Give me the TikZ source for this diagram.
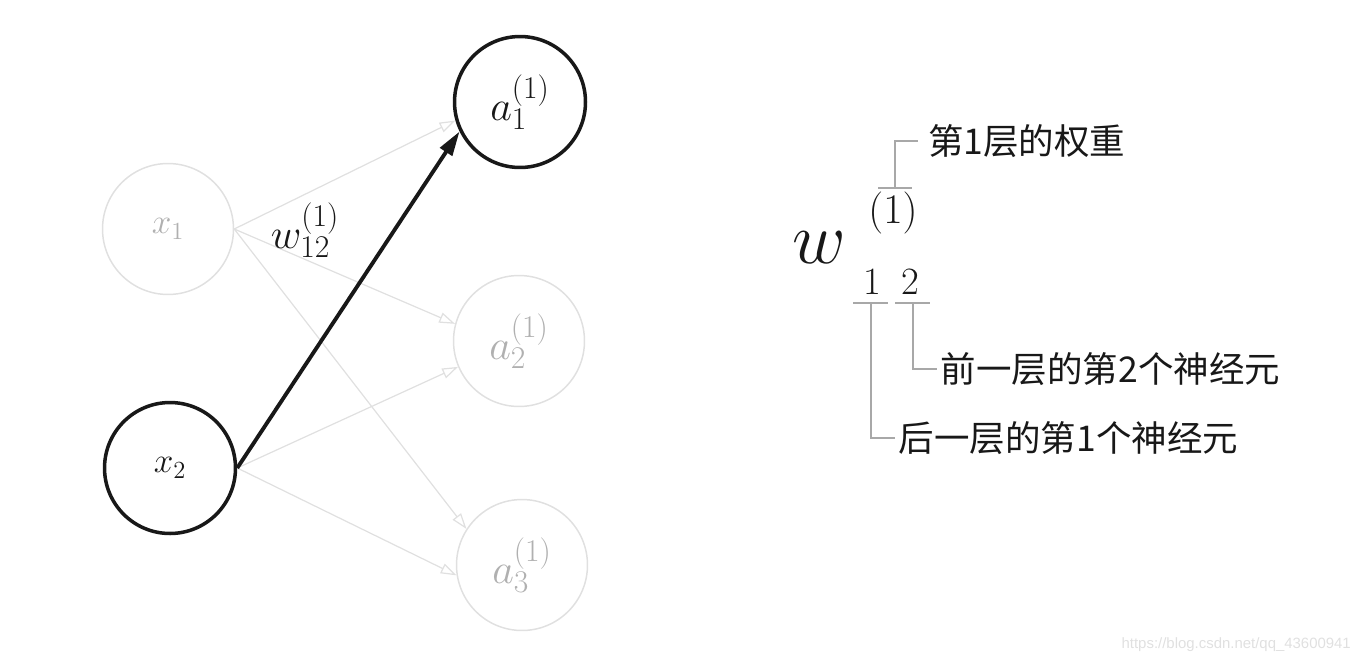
\RequirePackage{fix-cm}
\documentclass[tikz,border=0pt]{standalone}
\usepackage{fontspec}
\usepackage{tikz}
\usetikzlibrary{arrows.meta}
\newfontfamily\cjk{Noto Sans CJK SC}
\newfontfamily\wmfont{Liberation Sans}
\definecolor{faint}{RGB}{224,224,224}
\definecolor{fainttext}{RGB}{176,176,176}
\definecolor{ink}{RGB}{24,24,24}
\definecolor{tick}{RGB}{168,168,168}
\DeclareMathSizes{24}{24}{18}{14}
\newcommand{\xsize}{\fontsize{20}{24}\selectfont}
\newcommand{\asize}{\fontsize{24}{28}\selectfont}
\newcommand{\notesize}{\fontsize{20.2}{24}\selectfont}
\newcommand{\drawtick}{\draw[tick, line width=0.8pt]}

\begin{document}
\begin{tikzpicture}[x=0.02cm, y=-0.02cm,
    neuron/.style={circle, minimum size=2.62cm, inner sep=0pt},
    dim/.style={neuron, draw=faint, line width=0.85pt, text=fainttext},
    lit/.style={neuron, draw=ink, line width=2pt, text=ink},
    weak/.style={draw=faint, line width=0.7pt, -{Triangle[open, length=9pt, width=6pt]}},
    note/.style={anchor=west, inner xsep=2pt, text=ink, font=\cjk\notesize}]
\useasboundingbox (0,0) rectangle (1364,663);
% network
\node[dim, font=\xsize] (x1) at (168,229) {$x_1$};
\node[lit, font=\xsize] (x2) at (170,468) {$x_2$};
\node[lit, font=\asize] (a1) at (520,102) {$a_1^{(1)}$};
\node[dim, font=\asize] (a2) at (519,341) {$a_2^{(1)}$};
\node[dim, font=\asize] (a3) at (522,565) {$a_3^{(1)}$};
\foreach \s/\t/\ang in {x1/a1/196, x1/a2/165, x1/a3/147, x2/a2/203, x2/a3/189}{
  \draw[weak] (\s.east) -- (\t.\ang);
}
\draw[ink, line width=2.2pt, -{Triangle[length=14pt, width=8pt]}] (x2.east) -- (a1.206);
\node[text=ink, font=\asize] (w12) at (305,230) {$w_{12}^{(1)}$};
% notation
\node[text=ink, font=\fontsize{42}{48}\selectfont] (w) at (819,248) {$w$};
\node[text=ink, font=\asize] (lay) at (893,213) {$(1)$};
\node[text=ink, font=\fontsize{22}{26}\selectfont] (d1) at (872,282) {$1$};
\node[text=ink, font=\fontsize{22}{26}\selectfont] (d2) at (910,282) {$2$};
\node[note, inner xsep=5.5pt] (layer) at (918,141) {第1层的权重};
\node[note] (prev) at (937,369) {前一层的第2个神经元};
\node[note] (next) at (895,438) {后一层的第1个神经元};
\coordinate (up) at (895,188);
\coordinate (lo1) at (871,303);
\coordinate (lo2) at (913,303);
\drawtick (878,188) -- (912,188) (up) |- (layer.west);
\drawtick (853,303) -- (888,303) (lo1) |- (next.west);
\drawtick (895,303) -- (930,303) (lo2) |- (prev.west);
\node[anchor=east, text=black!12, font=\wmfont\fontsize{8.5}{10}\selectfont] (mark) at (1357,645) {https://blog.csdn.net/qq\_43600941};
\end{tikzpicture}
\end{document}
